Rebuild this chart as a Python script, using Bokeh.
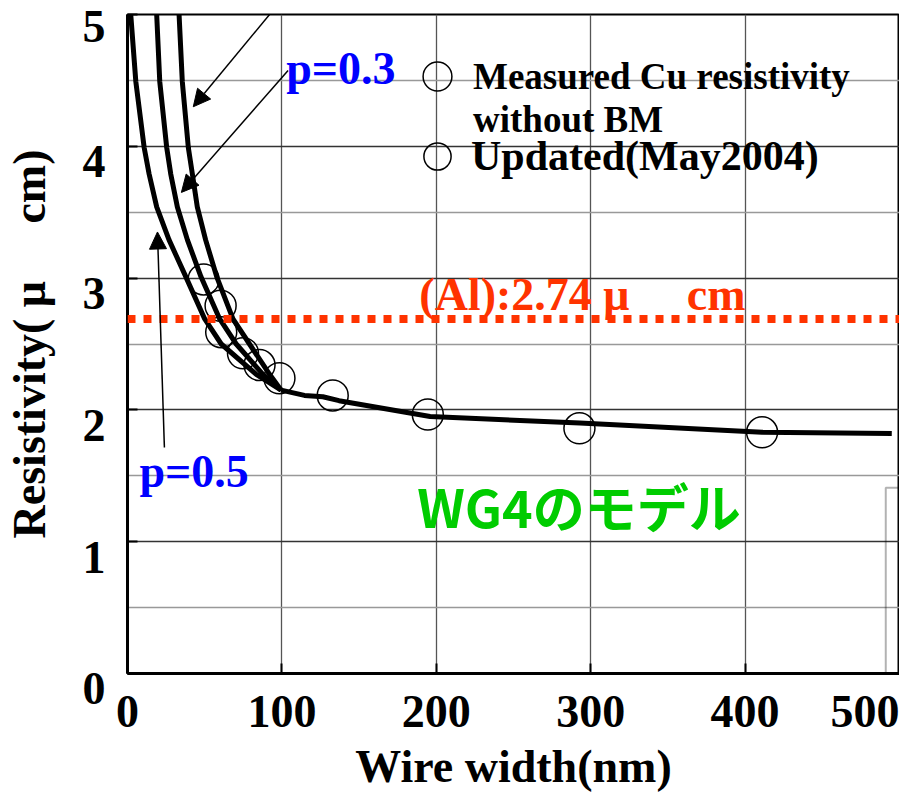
from bokeh.plotting import figure
from bokeh.models import (FixedTicker, Label, Arrow, NormalHead, Span, Legend,
                          LegendItem, BoxAnnotation)
from bokeh.embed import file_html
from bokeh.resources import INLINE

SERIF = "Liberation Serif"
NB = "\u00a0"

# ---------------- data ----------------
x_ticks = [0, 100, 200, 300, 400, 500]
y_ticks = [0, 1, 2, 3, 4, 5]
y_minor = [0.5, 1.5, 2.5, 3.5, 4.5]

# model curves
p0_x = [33.4, 35.5, 39.4, 42.0, 45.2, 50.6, 57.8, 68.3, 79.0, 92.0, 99.5]
p0_y = [5.0, 4.49, 3.99, 3.79, 3.54, 3.29, 3.01, 2.69, 2.50, 2.27, 2.15]
p03_x = [18.9, 20.9, 25.4, 28.0, 32.3, 38.8, 47.6, 59.7, 70.4, 87.7, 99.5]
p03_y = [5.0, 4.49, 3.99, 3.79, 3.54, 3.29, 3.01, 2.69, 2.50, 2.27, 2.15]
p05_x = [2.1, 5.4, 10.8, 14.0, 18.9, 26.9, 37.0, 50.0, 60.7, 83.4, 99.5]
p05_y = [5.0, 4.49, 3.99, 3.79, 3.54, 3.29, 3.03, 2.69, 2.50, 2.27, 2.15]
tail_x = [99.5, 114.6, 126.5, 137, 196, 293, 411, 495]
tail_y = [2.15, 2.11, 2.10, 2.07, 1.95, 1.90, 1.83, 1.82]

# measured points
meas_x = [49.3, 60.3, 60.7, 74.8, 85.5, 98.4]
meas_y = [2.99, 2.79, 2.59, 2.43, 2.34, 2.24]
upd_x = [132.9, 194.5, 292.7, 411.0]
upd_y = [2.11, 1.965, 1.86, 1.83]

al_y = 2.69
al_text = "(Al):2.74 μ" + NB * 5 + "cm"

# ---------------- figure ----------------
p = figure(width=899, height=795, x_range=(0, 500), y_range=(0, 5),
           output_backend="svg", toolbar_location=None,
           min_border_left=126, min_border_right=0, min_border_top=14,
           min_border_bottom=122)
p.background_fill_color = "white"
p.border_fill_color = "white"
p.outline_line_color = "black"
p.outline_line_width = 2

# x axis
xa = p.xaxis[0]
xa.ticker = FixedTicker(ticks=x_ticks)
xa.major_label_text_font = SERIF
xa.major_label_text_font_style = "bold"
xa.major_label_text_font_size = "46px"
xa.major_label_text_color = "black"
xa.major_label_standoff = 22
xa.axis_label = "Wire width(nm)"
xa.axis_label_text_font = SERIF
xa.axis_label_text_font_style = "bold"
xa.axis_label_text_font_size = "46px"
xa.axis_label_text_color = "black"
xa.axis_label_standoff = 11
xa.axis_line_width = 3
xa.axis_line_color = "black"
xa.major_tick_in = 10
xa.major_tick_out = 0
xa.major_tick_line_width = 2
xa.minor_tick_line_color = None

# y axis: labels sit a little below their ticks, as in the original
ya = p.yaxis[0]
ya.ticker = FixedTicker(ticks=y_ticks, minor_ticks=y_minor)
ya.major_label_overrides = {v: ("\n" + str(v) if v < y_ticks[-1] else str(v))
                            for v in y_ticks}
ya.major_label_text_line_height = 0.6
ya.major_label_text_font = SERIF
ya.major_label_text_font_style = "bold"
ya.major_label_text_font_size = "46px"
ya.major_label_text_color = "black"
ya.major_label_standoff = 18
ya.axis_label = "Resistivity( μ" + NB * 5 + "cm)"
ya.axis_label_text_font = SERIF
ya.axis_label_text_font_style = "bold"
ya.axis_label_text_font_size = "46px"
ya.axis_label_text_color = "black"
ya.axis_label_standoff = 25
ya.axis_line_width = 3
ya.axis_line_color = "black"
ya.major_tick_in = 10
ya.major_tick_out = 0
ya.major_tick_line_width = 2
ya.minor_tick_line_color = None

# grid
p.xgrid.ticker = FixedTicker(ticks=x_ticks)
p.xgrid.grid_line_color = "#555555"
p.xgrid.grid_line_width = 1.3
p.ygrid.ticker = FixedTicker(ticks=y_ticks, minor_ticks=y_minor)
p.ygrid.grid_line_color = "#333333"
p.ygrid.grid_line_width = 1.3
p.ygrid.minor_grid_line_color = "#999999"
p.ygrid.minor_grid_line_width = 1.3

# Al reference line
p.add_layout(Span(location=al_y, dimension="width", line_color="#FF3300",
                  line_width=8, line_dash="8 8"))
p.add_layout(Label(x=189.0, y=2.876, text=al_text, text_font=SERIF,
                   text_font_style="bold", text_font_size="46px",
                   text_color="#FF3300", text_baseline="middle"))

# model curves
for xs, ys in [(p0_x, p0_y), (p03_x, p03_y), (p05_x, p05_y), (tail_x, tail_y)]:
    p.line(xs, ys, line_width=5, line_color="black", line_join="round")

# data points
r_meas = p.scatter(meas_x, meas_y, marker="circle", size=31, fill_color=None,
                   line_color="black", line_width=1.5)
r_upd = p.scatter(upd_x, upd_y, marker="circle", size=31, fill_color=None,
                  line_color="black", line_width=1.5)

# arrows and p labels
for xs, ys, xe, ye in [(99.5, 5.106, 42.6, 4.30), (104.0, 4.575, 34.9, 3.65),
                       (23.9, 1.715, 19.4, 3.35)]:
    p.add_layout(Arrow(x_start=xs, y_start=ys, x_end=xe, y_end=ye, line_width=1.5,
                       line_color="black",
                       end=NormalHead(size=17, fill_color="black", line_color="black")))

for tx, ty, t in [(102.8, 4.590, "p=0.3"), (7.76, 1.536, "p=0.5")]:
    p.add_layout(Label(x=tx, y=ty, text=t, text_font=SERIF, text_font_style="bold",
                       text_font_size="46px", text_color="#0000FF",
                       text_baseline="middle"))

p.add_layout(Label(x=187.7, y=1.275, text="WG4のモデル", text_font="Noto Sans CJK JP",
                   text_font_style="bold", text_font_size="52px", text_color="#00CC00",
                   text_baseline="middle"))

# legends
common = dict(glyph_height=78, label_standoff=0, padding=0, margin=0,
              border_line_alpha=0, background_fill_alpha=0, label_text_font=SERIF,
              label_text_font_style="bold", label_text_color="black")
leg1 = Legend(items=[LegendItem(label="Measured Cu resistivity", renderers=[r_meas])],
              location=(274, 558), glyph_width=72, label_text_font_size="37px", **common)
leg2 = Legend(items=[LegendItem(label="Updated(May2004)", renderers=[r_upd])],
              location=(276, 478), glyph_width=68, label_text_font_size="42px", **common)
p.add_layout(leg1)
p.add_layout(leg2)
p.add_layout(Label(x=223.8, y=4.200, text="without BM", text_font=SERIF,
                   text_font_style="bold", text_font_size="37px", text_color="black",
                   text_baseline="middle"))

# border of the neighbouring slide object at the right
p.add_layout(BoxAnnotation(left=491.1, right=600, bottom=-1, top=1.41,
                           fill_alpha=0, line_color="black", line_width=2))

open("out.html", "w").write(file_html(p, INLINE))
